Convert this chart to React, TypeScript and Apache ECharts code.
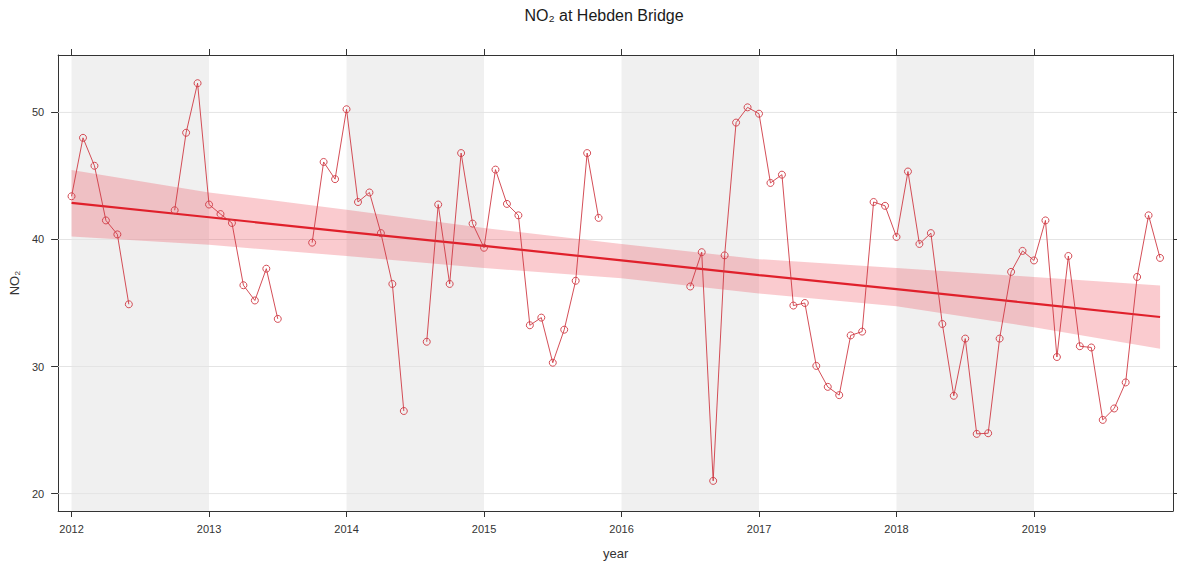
import React, { useEffect, useRef } from "react";
import * as echarts from "echarts";

const startYear = 2012;
const years = [2012, 2013, 2014, 2015, 2016, 2017, 2018, 2019];
const yTicks = [20, 30, 40, 50];
const shadeRanges = [
  [2012, 2013],
  [2014, 2015],
  [2016, 2017],
  [2018, 2019],
];

// monthly NO2, Jan 2012 .. Dec 2019 (null = missing)
const no2_2012 = [43.4, 48.0, 45.8, 41.5, 40.4, 34.9, null, null, null, 42.3, 48.4, 52.3];
const no2_2013 = [42.75, 42.0, 41.3, 36.4, 35.2, 37.7, 33.75, null, null, 39.75, 46.1, 44.75];
const no2_2014 = [50.25, 42.95, 43.7, 40.5, 36.5, 26.5, null, 31.95, 42.75, 36.5, 46.8, 41.25];
const no2_2015 = [39.35, 45.5, 42.8, 41.9, 33.25, 33.85, 30.3, 32.9, 36.75, 46.8, 41.7, null];
const no2_2016 = [null, null, null, null, null, null, 36.3, 39.0, 21.0, 38.75, 49.2, 50.4];
const no2_2017 = [49.9, 44.45, 45.1, 34.8, 35.0, 30.05, 28.4, 27.75, 32.45, 32.75, 42.95, 42.65];
const no2_2018 = [40.2, 45.35, 39.65, 40.5, 33.35, 27.7, 32.2, 24.7, 24.75, 32.2, 37.45, 39.1];
const no2_2019 = [38.35, 41.5, 30.75, 38.7, 31.6, 31.5, 25.8, 26.7, 28.75, 37.05, 41.9, 38.55];

// trend and its uncertainty band
const trendX = [2012, 2013, 2014, 2015, 2016, 2017, 2018, 2019, 2019.917];
const trendMid = [42.88, 41.75, 40.6, 39.5, 38.35, 37.2, 36.1, 34.95, 33.9];
const trendUpper = [45.47, 43.7, 42.35, 40.9, 39.65, 38.45, 37.75, 37.05, 36.37];
const trendLower = [40.24, 39.58, 38.7, 37.75, 36.95, 35.75, 34.75, 33.1, 31.4];

const FONT = "Liberation Sans, Arial, sans-serif";

export default function App() {
  const ref = useRef<HTMLDivElement>(null);
  useEffect(() => {
    if (!ref.current) return;
    const chart = echarts.init(ref.current, undefined, { renderer: "svg" });

    const monthly = [
      ...no2_2012, ...no2_2013, ...no2_2014, ...no2_2015,
      ...no2_2016, ...no2_2017, ...no2_2018, ...no2_2019,
    ];
    const pts = monthly.map((v, i) => [startYear + i / 12, v === null ? null : v]);

    const xMin = 2011.9025;
    const xMax = 2020.011;
    const yMin = 18.63;
    const yMax = 54.52;

    const tickColor = "#333";
    const labelStyle = { color: "#333", fontSize: 11, fontFamily: FONT };
    const pointColor = "#cf3a44";

    const option: any = {
      animation: false,
      backgroundColor: "#ffffff",
      title: {
        text: "NO₂ at Hebden Bridge",
        left: 599,
        top: 2,
        textAlign: "center",
        textStyle: { fontSize: 16, fontWeight: "normal", color: "#1a1a1a", fontFamily: FONT },
      },
      grid: { left: 58, right: 4, top: 55, bottom: 53, containLabel: false },
      xAxis: [
        {
          type: "value",
          min: xMin,
          max: xMax,
          name: "year",
          nameLocation: "middle",
          nameGap: 36,
          nameTextStyle: { fontSize: 13, color: "#333", fontFamily: FONT },
          axisLine: { show: true, onZero: false, lineStyle: { color: tickColor, width: 1 } },
          axisTick: { show: true, inside: false, length: 6, customValues: years, lineStyle: { color: tickColor } },
          axisLabel: { show: true, customValues: years, margin: 12, formatter: (v: number) => String(Math.round(v)), ...labelStyle },
          splitLine: { show: false },
        },
        {
          type: "value",
          position: "top",
          min: xMin,
          max: xMax,
          axisLine: { show: true, onZero: false, lineStyle: { color: tickColor, width: 1 } },
          axisTick: { show: true, inside: false, length: 6, customValues: years, lineStyle: { color: tickColor } },
          axisLabel: { show: false },
          splitLine: { show: false },
        },
      ],
      yAxis: [
        {
          type: "value",
          min: yMin,
          max: yMax,
          name: "NO₂",
          nameLocation: "middle",
          nameGap: 36,
          nameRotate: 90,
          nameTextStyle: { fontSize: 13, color: "#333", fontFamily: FONT },
          axisLine: { show: true, onZero: false, lineStyle: { color: tickColor, width: 1 } },
          axisTick: { show: true, inside: false, length: 7, customValues: yTicks, lineStyle: { color: tickColor } },
          axisLabel: { show: true, customValues: yTicks, margin: 14, ...labelStyle },
          splitLine: { show: false },
        },
        {
          type: "value",
          position: "right",
          min: yMin,
          max: yMax,
          axisLine: { show: true, onZero: false, lineStyle: { color: tickColor, width: 1 } },
          axisTick: { show: true, inside: false, length: 6, customValues: yTicks, lineStyle: { color: tickColor } },
          axisLabel: { show: false },
          splitLine: { show: false },
        },
      ],
      series: [
        {
          type: "custom",
          name: "shade",
          z: 0,
          silent: true,
          clip: true,
          data: shadeRanges,
          encode: { x: [0, 1] },
          renderItem: (params: any, api: any) => {
            const a = api.coord([api.value(0), yMin]);
            const b = api.coord([api.value(1), yMin]);
            const cs = params.coordSys;
            return {
              type: "rect",
              shape: { x: a[0], y: cs.y, width: b[0] - a[0], height: cs.height },
              style: { fill: "#f0f0f0" },
            };
          },
        },
        {
          type: "custom",
          name: "grid",
          z: 1,
          silent: true,
          data: yTicks.map((t) => [xMin, t]),
          encode: { x: 0, y: 1 },
          renderItem: (params: any, api: any) => {
            const p = api.coord([xMin, api.value(1)]);
            const cs = params.coordSys;
            return {
              type: "line",
              shape: { x1: cs.x, y1: p[1], x2: cs.x + cs.width, y2: p[1] },
              style: { stroke: "#e4e4e4", lineWidth: 1 },
            };
          },
        },
        {
          type: "custom",
          name: "band",
          z: 2,
          silent: true,
          data: [[trendX[0], trendMid[0]]],
          encode: { x: 0, y: 1 },
          renderItem: (params: any, api: any) => {
            const upper = trendX.map((x, i) => api.coord([x, trendUpper[i]]));
            const lower = trendX.map((x, i) => api.coord([x, trendLower[i]])).reverse();
            return {
              type: "polygon",
              shape: { points: [...upper, ...lower] },
              style: { fill: "rgba(236, 70, 82, 0.28)" },
            };
          },
        },
        {
          type: "line",
          name: "trend",
          z: 3,
          data: trendX.map((x, i) => [x, trendMid[i]]),
          showSymbol: false,
          symbol: "none",
          lineStyle: { color: "#e0202b", width: 2.2 },
        },
        {
          type: "line",
          name: "NO2",
          z: 4,
          data: pts,
          connectNulls: false,
          symbol: "circle",
          symbolSize: 7,
          itemStyle: { color: "rgba(255,255,255,0)", borderColor: pointColor, borderWidth: 0.9 },
          lineStyle: { color: pointColor, width: 0.9 },
        },
      ],
    };
    chart.setOption(option);
    return () => chart.dispose();
  }, []);

  return (
    <div
      ref={ref}
      style={{ position: "fixed", left: 0, top: 0, width: 1177, height: 565, background: "#fff" }}
    />
  );
}
